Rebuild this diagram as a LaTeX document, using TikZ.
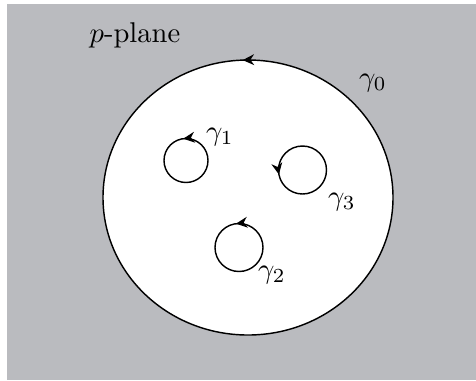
\documentclass[tikz,border=0pt]{standalone}
\usetikzlibrary{arrows.meta,decorations.markings}
\definecolor{planegray}{RGB}{186,187,191}
\tikzset{
  contour/.style={line width=0.5pt,draw=black},
  tipat/.style={postaction={decorate},decoration={markings,mark=at position #1 with {\arrow{Stealth[length=4pt,width=3.8pt]}}}},
  lbl/.style={inner sep=0pt,font=\normalsize}
}
\begin{document}
\begin{tikzpicture}[x=0.35pt,y=0.35pt]
\useasboundingbox (0,0) rectangle (476,380);
\fill[planegray] (7,0) rectangle (476,376);
% outer contour gamma_0
\fill[white] (248,182.5) ellipse [x radius=145,y radius=137.5];
\draw[contour,tipat=0.256] (248,182.5) ellipse [x radius=145,y radius=137.5];
% small contours
\draw[contour,tipat=0.27] (186,219.5) circle [radius=22];
\draw[contour,tipat=0.27] (239,132.5) circle [radius=24];
\draw[contour,tipat=0.53] (302.5,210) circle [radius=24];
% labels
\node[lbl] (plane) at (135,345) {$p$-plane};
\node[lbl] (g0) at (373,297) {$\gamma_0$};
\node[lbl] (g1) at (220,243) {$\gamma_1$};
\node[lbl] (g2) at (272,105) {$\gamma_2$};
\node[lbl] (g3) at (342,178) {$\gamma_3$};
\end{tikzpicture}
\end{document}
